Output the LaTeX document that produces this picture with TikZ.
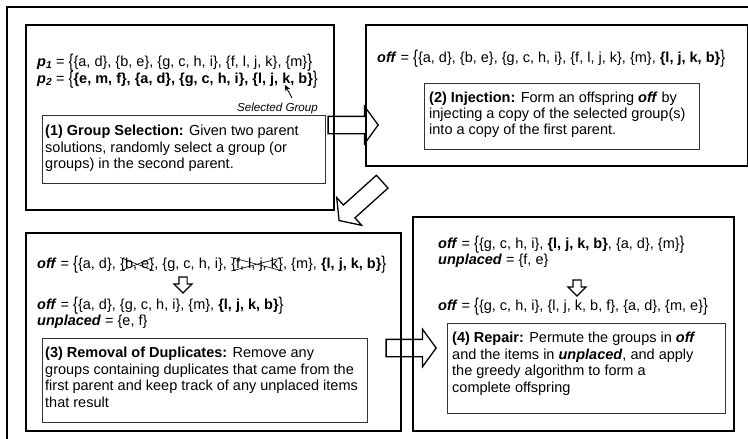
\documentclass[tikz,border=0pt]{standalone}
\usepackage{fontspec}
\setmainfont{Liberation Sans}
\usetikzlibrary{shapes.arrows,arrows.meta}
\newcommand{\lb}{\raisebox{-0.12em}{\scalebox{1}[1.28]{\{}}}
\newcommand{\rb}{\raisebox{-0.12em}{\scalebox{1}[1.28]{\}}}}
\newcommand{\bi}[1]{\textbf{\textit{#1}}}
\newcommand{\xo}[1]{\tikz[baseline=(xq.base)]{\node[inner sep=0pt,outer sep=0pt](xq){#1};\draw[line width=0.6pt](xq.south west)--(xq.north east)(xq.north west)--(xq.south east);}}
\begin{document}
\begin{tikzpicture}[x=1pt,y=-1pt,
  bigbox/.style={draw,line width=1.8pt,inner sep=0pt,anchor=north west},
  innerbox/.style={draw=black!80,line width=0.9pt,inner sep=0pt,anchor=north west},
  txt/.style={anchor=base west,inner sep=0pt,font=\fontsize{14.5}{16.5}\selectfont},
  sgtxt/.style={anchor=base east,inner sep=0pt,font=\fontsize{11.6}{13}\selectfont\itshape},
  blockarrow/.style={single arrow,draw,fill=white,line width=1.3pt,inner sep=0pt,inner ysep=8pt,
     single arrow head extend=10pt,single arrow tip angle=108,minimum height=50pt},
  smallarrow/.style={single arrow,draw,fill=white,line width=1.2pt,inner sep=0pt,inner ysep=3.5pt,
     single arrow head extend=5pt,single arrow tip angle=90,minimum height=16pt,rotate=-90}
]
\useasboundingbox (0,0) rectangle (748,439);
% outer frame
\draw[line width=1.5pt] (7,445) -- (7,7) -- (760,7);
% block arrows
\node[blockarrow] (arrA) at (350,125) {};
\node[blockarrow,minimum height=58pt,rotate=222] (arrB) at (363,199) {};
\node[blockarrow] (arrC) at (408,348) {};
% big boxes
\node[bigbox,minimum width=308pt,minimum height=185pt] (b1) at (25,24) {};
\node[bigbox,minimum width=382pt,minimum height=141pt] (b2) at (365,24) {};
\node[bigbox,minimum width=375pt,minimum height=198pt] (b3) at (25,232) {};
\node[bigbox,minimum width=321pt,minimum height=214pt] (b4) at (412,216) {};
% inner boxes
\node[innerbox,minimum width=283pt,minimum height=68pt] (i1) at (42,115) {};
\node[innerbox,minimum width=275pt,minimum height=66pt] (i2) at (424,83) {};
\node[innerbox,minimum width=325pt,minimum height=84pt] (i3) at (42,338) {};
\node[innerbox,minimum width=278pt,minimum height=90pt] (i4) at (447,323) {};
% box 1
\node[txt] (p1) at (37,66) {\bi{p}\textsubscript{\bi{1}} = \lb\{a, d\}, \{b, e\}, \{g, c, h, i\}, \{f, l, j, k\}, \{m\}\rb};
\node[txt] (p2) at (37,83) {\bi{p}\textsubscript{\bi{2}} = \lb\textbf{\{e, m, f\}, \{a, d\}, \{g, c, h, i\}, \{l, j, k, b\}}\rb};
\node[sgtxt] (sg) at (318,111) {Selected Group};
\coordinate (sgA) at (292,98);
\coordinate (sgK) at (285,85);
\draw[line width=0.9pt,-{Stealth[length=6pt,width=5.5pt]}] (sgA) -- (sgK);
\node[txt] (t1a) at (45,135) {\textbf{(1) Group Selection:} Given two parent};
\node[txt] (t1b) at (45,152) {solutions, randomly select a group (or};
\node[txt] (t1c) at (45,168) {groups) in the second parent.};
% box 2
\node[txt] (o2) at (377,62) {\bi{off} = \lb\{a, d\}, \{b, e\}, \{g, c, h, i\}, \{f, l, j, k\}, \{m\}, \textbf{\{l, j, k, b\}}\rb};
\node[txt] (t2a) at (429,102) {\textbf{(2) Injection:} Form an offspring \bi{off} by};
\node[txt] (t2b) at (429,118) {injecting a copy of the selected group(s)};
\node[txt] (t2c) at (429,134) {into a copy of the first parent.};
% box 3
\node[txt] (o3a) at (37,268) {\bi{off} = \lb\{a, d\}, \xo{\{b, e\}}, \{g, c, h, i\}, \xo{\{f, l, j, k\}}, \{m\}, \textbf{\{l, j, k, b\}}\rb};
\node[smallarrow] (d3) at (183,283) {};
\node[txt] (o3b) at (37,309) {\bi{off} = \lb\{a, d\}, \{g, c, h, i\}, \{m\}, \textbf{\{l, j, k, b\}}\rb};
\node[txt] (u3) at (37,325) {\bi{unplaced} = \{e, f\}};
\node[txt] (t3a) at (45,357) {\textbf{(3) Removal of Duplicates:} Remove any};
\node[txt] (t3b) at (45,374) {groups containing duplicates that came from the};
\node[txt] (t3c) at (45,390) {first parent and keep track of any unplaced items};
\node[txt] (t3d) at (45,407) {that result};
% box 4
\node[txt] (o4a) at (438,248) {\bi{off} = \lb\{g, c, h, i\}, \textbf{\{l, j, k, b\}}, \{a, d\}, \{m\}\rb};
\node[txt] (u4) at (438,264) {\bi{unplaced} = \{f, e\}};
\node[smallarrow] (d4) at (577,286) {};
\node[txt] (o4b) at (438,310) {\bi{off} = \lb\{g, c, h, i\}, \{l, j, k, b, f\}, \{a, d\}, \{m, e\}\rb};
\node[txt] (t4a) at (452,342) {\textbf{(4) Repair:} Permute the groups in \bi{off}};
\node[txt] (t4b) at (452,359) {and the items in \bi{unplaced}, and apply};
\node[txt] (t4c) at (452,375) {the greedy algorithm to form a};
\node[txt] (t4d) at (452,392) {complete offspring};
\end{tikzpicture}
\end{document}
